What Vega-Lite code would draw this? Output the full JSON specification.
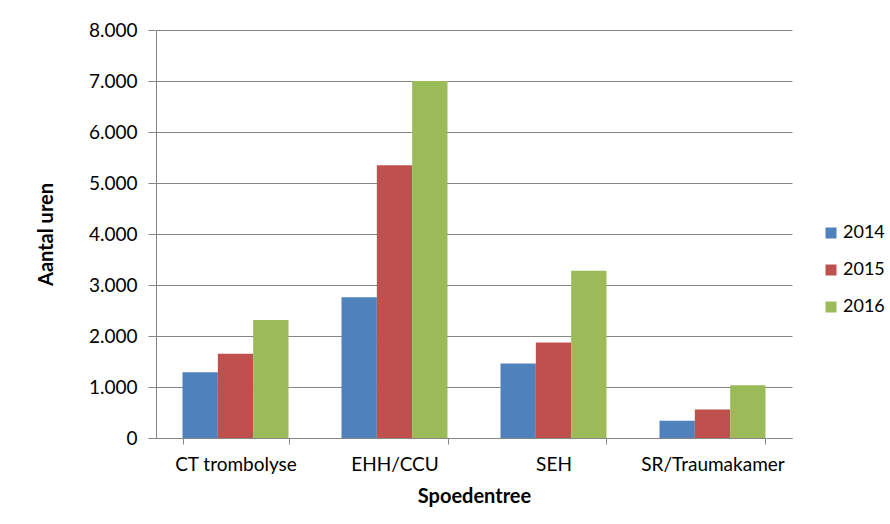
{
  "$schema": "https://vega.github.io/schema/vega-lite/v6.json",
  "width": 636,
  "height": 408,
  "autosize": "none",
  "padding": {"left": 156, "top": 30, "right": 98, "bottom": 86},
  "background": "white",
  "data": {
    "values": [
      {"categorie": "CT trombolyse", "jaar": "2014", "uren": 1290},
      {"categorie": "CT trombolyse", "jaar": "2015", "uren": 1650},
      {"categorie": "CT trombolyse", "jaar": "2016", "uren": 2315},
      {"categorie": "EHH/CCU", "jaar": "2014", "uren": 2760},
      {"categorie": "EHH/CCU", "jaar": "2015", "uren": 5350},
      {"categorie": "EHH/CCU", "jaar": "2016", "uren": 7000},
      {"categorie": "SEH", "jaar": "2014", "uren": 1460},
      {"categorie": "SEH", "jaar": "2015", "uren": 1875},
      {"categorie": "SEH", "jaar": "2016", "uren": 3280},
      {"categorie": "SR/Traumakamer", "jaar": "2014", "uren": 340},
      {"categorie": "SR/Traumakamer", "jaar": "2015", "uren": 560},
      {"categorie": "SR/Traumakamer", "jaar": "2016", "uren": 1035}
    ]
  },
  "mark": {"type": "bar"},
  "encoding": {
    "x": {
      "field": "categorie",
      "type": "nominal",
      "sort": null,
      "title": "Spoedentree",
      "scale": {"paddingInner": 0.3333, "paddingOuter": 0.1667},
      "axis": {
        "labelAngle": 0,
        "tickBand": "extent",
        "tickSize": 6,
        "labelPadding": 11,
        "titlePadding": 12,
        "labelFontSize": 19
      }
    },
    "xOffset": {"field": "jaar", "type": "nominal", "scale": {"paddingInner": 0, "paddingOuter": 0}},
    "y": {
      "field": "uren",
      "type": "quantitative",
      "title": "Aantal uren",
      "scale": {"domain": [0, 8000], "nice": false},
      "axis": {
        "values": [0, 1000, 2000, 3000, 4000, 5000, 6000, 7000, 8000],
        "labelExpr": "replace(format(datum.value, ','), ',', '.')",
        "tickSize": 8,
        "labelPadding": 11,
        "titlePadding": 32,
        "labelFontSize": 19
      }
    },
    "color": {
      "field": "jaar",
      "type": "nominal",
      "title": null,
      "scale": {"domain": ["2014", "2015", "2016"], "range": ["#4F81BD", "#C0504D", "#9BBB59"]},
      "legend": {
        "orient": "none",
        "legendX": 666,
        "legendY": 194,
        "symbolType": "square",
        "symbolSize": 121,
        "symbolStrokeWidth": 0,
        "symbolOpacity": 1,
        "labelFontSize": 18,
        "labelFont": "Lato",
        "labelColor": "#000000",
        "labelOffset": 3,
        "rowPadding": 19,
        "padding": 0
      }
    }
  },
  "config": {
    "view": {"stroke": null},
    "axis": {
      "labelFont": "Lato",
      "labelColor": "#000000",
      "titleFont": "Lato",
      "titleFontSize": 20,
      "titleFontWeight": "bold",
      "titleColor": "#000000",
      "domainColor": "#868686",
      "tickColor": "#868686",
      "gridColor": "#868686",
      "gridWidth": 1,
      "domainWidth": 1,
      "tickWidth": 1
    },
    "axisX": {"grid": false},
    "axisY": {"grid": true}
  }
}
